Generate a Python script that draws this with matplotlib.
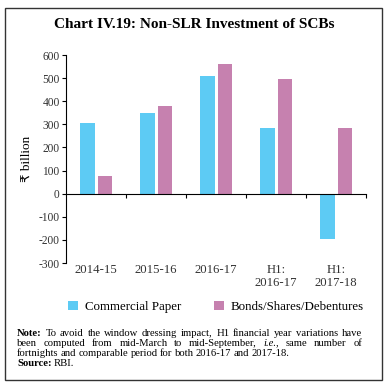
import numpy as np
import matplotlib
matplotlib.use("Agg")
import matplotlib.pyplot as plt
from matplotlib.patches import Rectangle

plt.rcParams['font.family'] = ['Liberation Serif', 'DejaVu Sans']

# DATA
categories = ['2014-15', '2015-16', '2016-17', 'H1:\n2016-17', 'H1:\n2017-18']
commercial_paper = [306, 351, 509, 284, -198]
bonds = [77, 380, 563, 495, 282]
series_names = ['Commercial Paper', 'Bonds/Shares/Debentures']
colors = ['#5DCBF4', '#C681AF']
yticks = [-300, -200, -100, 0, 100, 200, 300, 400, 500, 600]

note_lines = [
    "To avoid the window dressing impact, H1 financial year variations have",
    "been computed from mid-March to mid-September, i.e., same number of",
    "fortnights and comparable period for both 2016-17 and 2017-18.",
]

fig = plt.figure(figsize=(3.88, 3.91), dpi=100)
ax = fig.add_axes([66/388, 1-263/391, 300/388, (263-55)/391])

x = np.arange(len(categories))
w = 0.24
ax.bar(x - 0.145, commercial_paper, w, color=colors[0], label=series_names[0])
ax.bar(x + 0.145, bonds, w, color=colors[1], label=series_names[1])

ax.set_xlim(-0.5, len(categories) - 0.5)
ax.set_ylim(-300, 600)
ax.set_yticks(yticks)
ax.set_yticklabels([str(v) for v in yticks], fontsize=8.3, color='#333333')
ax.tick_params(axis='y', length=3, width=0.8, pad=1.5)

for s in ['top', 'right']:
    ax.spines[s].set_visible(False)
ax.spines['left'].set_linewidth(0.8)
ax.spines['bottom'].set_position(('data', 0))
ax.spines['bottom'].set_linewidth(0.8)
ax.set_xticks(np.arange(len(categories)) + 0.5)
ax.set_xticklabels([])
ax.tick_params(axis='x', direction='out', length=3, width=0.8)

for i, c in enumerate(categories):
    ax.text(i, -0.005, c, transform=ax.get_xaxis_transform(), ha='center', va='top',
            fontsize=9.2, color='#333333', linespacing=1.1)

ax.set_ylabel('₹ billion', fontsize=9.5, labelpad=4)

fig.text(194/388, 1-25/391, 'Chart IV.19: Non-SLR Investment of SCBs', ha='center', va='center',
         fontsize=11, fontweight='bold')

ax.legend(loc='center', bbox_to_anchor=(216/388, 1-307/391), bbox_transform=fig.transFigure,
          ncol=2, frameon=False, fontsize=9.3, handlelength=0.75, handleheight=0.75,
          columnspacing=2.6, handletextpad=0.5)

# note, justified by hand
fig.canvas.draw()
renderer = fig.canvas.get_renderer()
x0, x1 = 17, 362
fs = 7.7
ys = [333, 343, 353]
for li, line in enumerate(note_lines):
    words = line.split(' ')
    if li == 0:
        words = ['Note:'] + words
    arts = []
    for wd in words:
        kw = dict(fontsize=fs, va='center', ha='left')
        if wd == 'Note:':
            kw['fontweight'] = 'bold'
        if wd == 'i.e.,':
            kw['style'] = 'italic'
        arts.append(fig.text(0, 1 - ys[li]/391, wd, **kw))
    widths = [a.get_window_extent(renderer).width for a in arts]
    if li < len(note_lines) - 1:
        gap = (x1 - x0 - sum(widths)) / (len(words) - 1)
    else:
        gap = fs * 0.3
    pos = x0
    for a, wdt in zip(arts, widths):
        a.set_x(pos / 388)
        pos += wdt + gap

t = fig.text(17/388, 1-363/391, 'Source:', fontsize=fs, fontweight='bold', va='center')
tw = t.get_window_extent(renderer).width
fig.text((17 + tw + 2)/388, 1-363/391, 'RBI.', fontsize=fs, va='center')

fig.patches.append(Rectangle((5/388, 1-380/391), 377/388, 372/391, transform=fig.transFigure,
                             fill=False, edgecolor='#333333', linewidth=1.0))

fig.savefig('out.png', dpi=100)
